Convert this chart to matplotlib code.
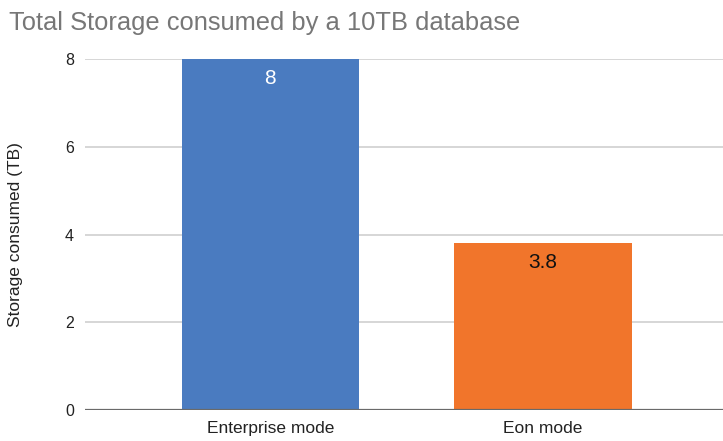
import matplotlib
matplotlib.use("Agg")
import matplotlib.pyplot as plt

# data
modes = ["Enterprise mode", "Eon mode"]
storage_tb = [8, 3.8]
bar_colors = ["#4a7bc0", "#f1752b"]
label_colors = ["white", "#111111"]
yticks = [0, 2, 4, 6, 8]

plt.rcParams['font.family'] = ['Liberation Sans', 'DejaVu Sans']

fig = plt.figure(figsize=(7.23, 4.41), dpi=100)
ax = fig.add_axes([0.1176, 0.0703, 0.8824, 0.7957])

x = list(range(len(modes)))
bars = ax.bar(x, storage_tb, width=0.65, color=bar_colors, zorder=3)

# value labels inside the top of each bar
for rect, val, c in zip(bars, storage_tb, label_colors):
    ax.annotate(f"{val:g}", (rect.get_x() + rect.get_width() / 2, rect.get_height()),
                xytext=(0, -14), textcoords="offset points",
                ha="center", va="center", fontsize=15, color=c, zorder=4)

ax.set_xlim(-0.68, 1.66)
ax.set_ylim(0, 8)
ax.set_yticks(yticks)
ax.set_yticklabels([str(t) for t in yticks])
ax.set_xticks(x)
ax.set_xticklabels(modes)

ax.grid(axis="y", color="#d6d6d6", linewidth=1.4, zorder=0)
ax.axhline(0, color="#6a6a6a", linewidth=1.6, zorder=5)
for s in ax.spines.values():
    s.set_visible(False)
ax.tick_params(axis="y", length=0, pad=8, labelsize=11.5, labelcolor="#222222")
ax.tick_params(axis="x", length=0, pad=8, labelsize=12.5, labelcolor="#222222")

ax.set_ylabel("Storage consumed (TB)", fontsize=12.5, color="#222222", labelpad=30)

fig.text(0.012, 0.948, "Total Storage consumed by a 10TB database",
         fontsize=18.4, color="#777777", ha="left", va="center")

fig.savefig("out.png", dpi=100)
